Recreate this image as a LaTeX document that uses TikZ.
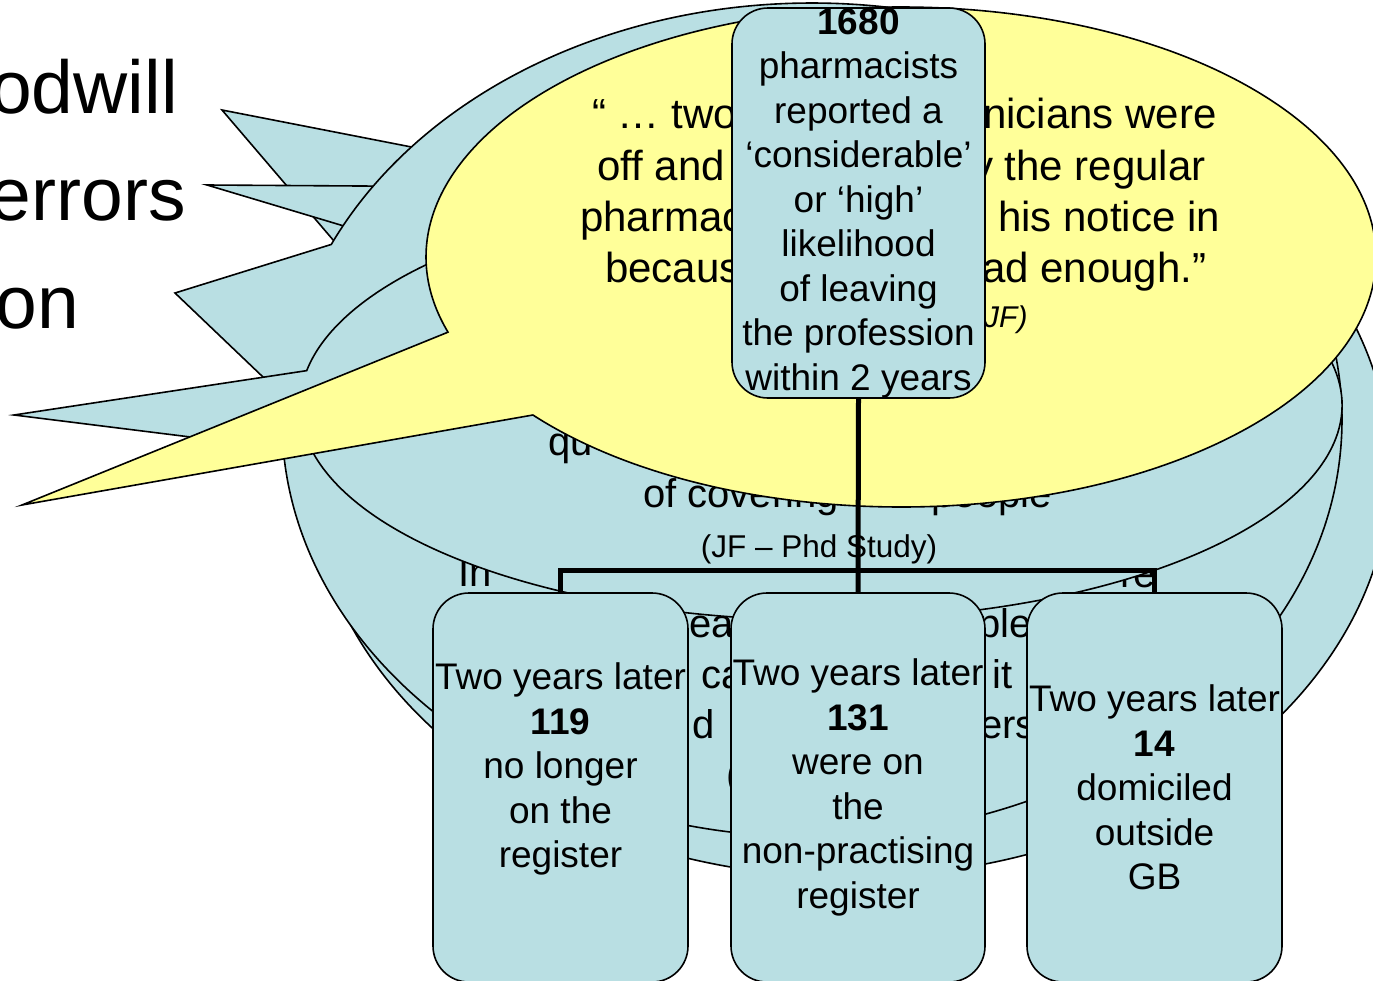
\documentclass[tikz,border=0pt]{standalone}
\usepackage{fontspec}
\setmainfont{Liberation Sans}
\definecolor{calloutblue}{RGB}{185,223,227}
\definecolor{calloutyellow}{RGB}{255,255,153}
\tikzset{
  bluecallout/.style={draw=black,line width=1.6pt,fill=calloutblue},
  yellowcallout/.style={draw=black,line width=1.6pt,fill=calloutyellow},
  orgbox/.style={draw=black,line width=1.6pt,fill=calloutblue,rounded corners=36pt,
    inner sep=0pt,align=center,font=\fontsize{37}{44.5}\selectfont},
  orgline/.style={line width=5pt},
  slidetext/.style={inner sep=0pt,anchor=base east,font=\fontsize{75}{90}\selectfont},
  quotetext/.style={inner sep=0pt,anchor=base west,font=\fontsize{42}{50}\selectfont},
  bodytext/.style={inner sep=0pt,anchor=base west,font=\fontsize{40}{48}\selectfont}
}
\begin{document}
\begin{tikzpicture}[x=1pt,y=-1pt]
\useasboundingbox (0,0) rectangle (1373,980);
\clip (0,0) rectangle (1373,980);
\fill[white] (0,0) rectangle (1373,980);
%% slide text behind the callouts
\foreach \name/\x/\y/\txt in {goodwill/178/113/odwill, errors/186/220/errors,
  lastword/79/328/on} {
  \node[slidetext] (\name) at (\x,\y) {\txt};
}
%% blue callouts, back to front
\foreach \cx/\cy/\rx/\ry/\tipx/\tipy/\up/\low/\back in {
  850/470/540/407/222/110/-131.1/-152.7/-491.1,
  815/425/510/400/207/185/-143.36/-151.33/-503.36,
  812/420/530/417/175/293/-155.1/-176.7/-515.1} {
  \draw[bluecallout] ([shift={(\cx,\cy)}]\up:{\rx} and {\ry}) -- (\tipx,\tipy)
    -- ([shift={(\cx,\cy)}]\low:{\rx} and {\ry})
    arc[start angle=\low,end angle=\back,x radius=\rx,y radius=\ry] -- cycle;
}
\foreach \name/\x/\y/\txt in {in/458/586/In, are/1120/587/re, ea/689/637/ea,
  ple/978/637/ple, ca/701/688/ca, it/992/688/it, d/692/738/d, ers/980/738/ers,
  paren/726/788/{(}} {
  \node[bodytext] (\name) at (\x,\y) {\txt};
}
\draw[bluecallout] ([shift={(821,405)}]-170.8:{521} and {215}) -- (14,415)
  -- ([shift={(821,405)}]167.3:{521} and {215})
  arc[start angle=167.3,end angle=-170.8,x radius=521,y radius=215] -- cycle;
\node[bodytext] (quite) at (548,455) {qu};
\node[bodytext] (covering) at (643,507) {of covering};
\node[bodytext,anchor=base east] (people) at (1052,507) {people};
\node[inner sep=0pt,anchor=base,font=\fontsize{31.5}{38}\selectfont] (study) at (819,557) {(JF – Phd Study)};
%% yellow callout with the quote
\draw[yellowcallout] ([shift={(901,257)}]-197.5:{475} and {250}) -- (22,505)
  -- ([shift={(901,257)}]140.8:{475} and {250})
  arc[start angle=140.8,end angle=-197.5,x radius=475,y radius=250] -- cycle;
\foreach \name/\x/\y/\txt in {qa/592/128/{“ … two}, qb/983/128/{nicians were},
  qc/597/180/{off and}, qd/972/180/{y the regular}, qe/580/231/pharmac,
  qf/998/231/{his notice in}, qg/605/282/becaus, qh/982/282/{ad enough.”}} {
  \node[quotetext] (\name) at (\x,\y) {\txt};
}
\node[quotetext,font=\fontsize{30}{36}\selectfont\itshape] (source) at (984,327) {JF)};
%% org chart boxes
\node[orgbox,minimum width=253,minimum height=390] (lead) at (858.5,203)
  {\textbf{1680}\\pharmacists\\reported a\\‘considerable’\\or ‘high’\\likelihood\\of leaving\\the profession\\within 2 years};
\node[orgbox,minimum width=255,minimum height=389] (gone) at (560.5,787.5)
  {Two years later\\\textbf{119}\\no longer\\on the\\register\\\mbox{}};
\node[orgbox,minimum width=254,minimum height=389] (nonprac) at (858,787.5)
  {Two years later\\\textbf{131}\\were on\\the\\non-practising\\register};
\node[orgbox,minimum width=255,minimum height=389] (abroad) at (1154.5,787.5)
  {Two years later\\\textbf{14}\\domiciled\\outside\\GB};
%% connectors
\coordinate (fork) at (858,570);
\draw[orgline] (lead.south) -- (nonprac.north);
\draw[orgline] (gone.north) |- (fork) -| (abroad.north);
\end{tikzpicture}
\end{document}
